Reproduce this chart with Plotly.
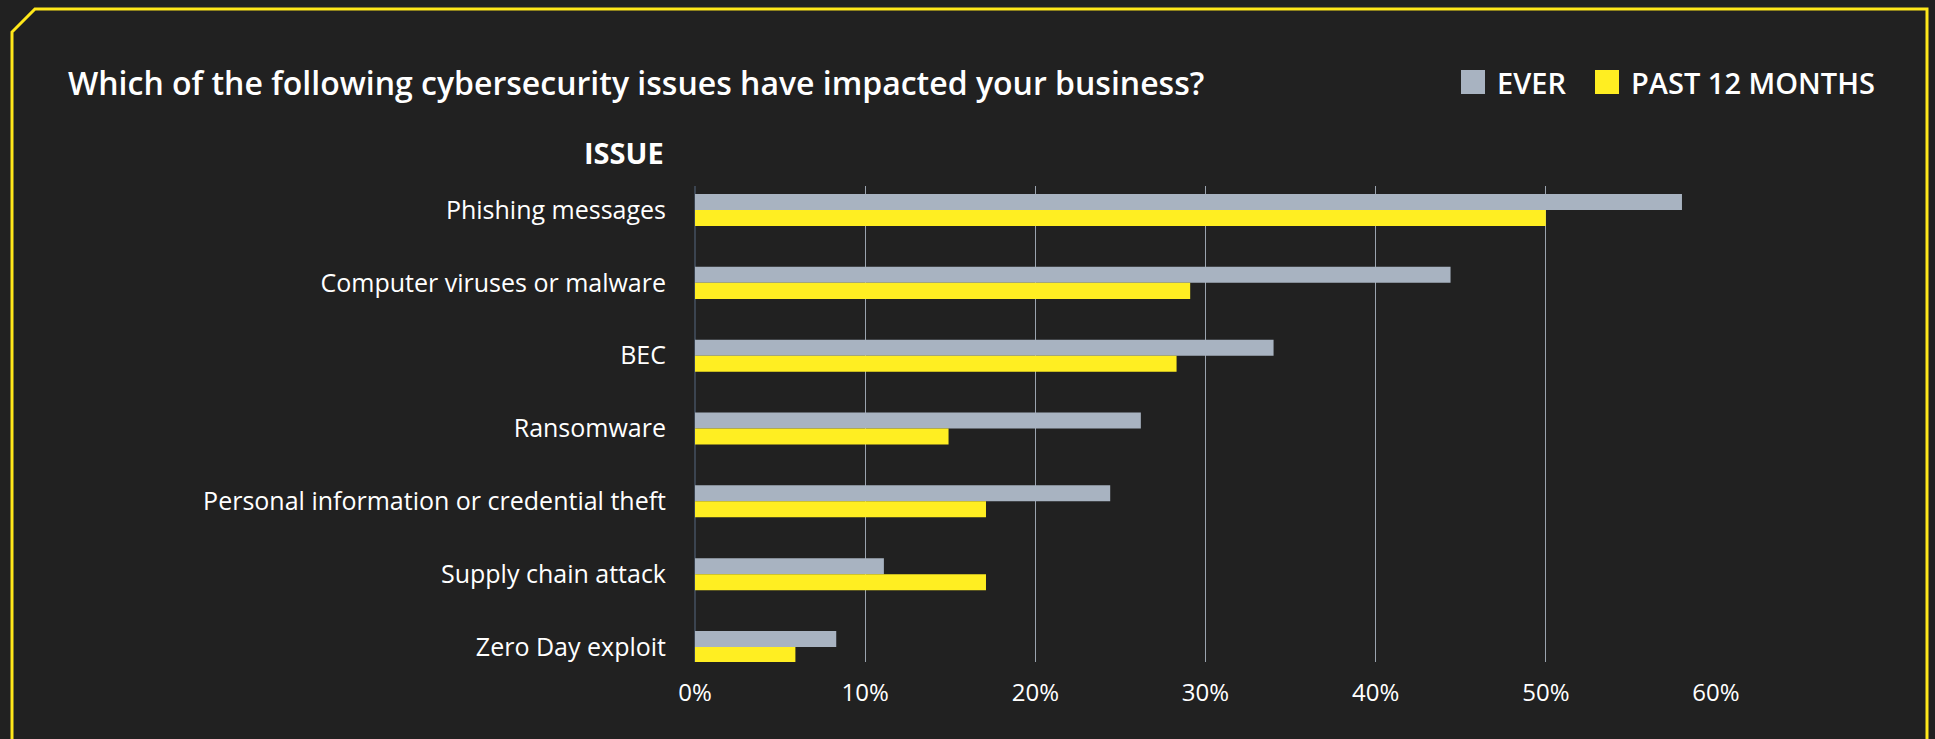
import plotly.graph_objects as go

# Survey results: share of businesses impacted by each issue
issues = [
    "Phishing messages",
    "Computer viruses or malware",
    "BEC",
    "Ransomware",
    "Personal information or credential theft",
    "Supply chain attack",
    "Zero Day exploit",
]
ever = [0.580, 0.444, 0.340, 0.262, 0.244, 0.111, 0.083]
past_12_months = [0.500, 0.291, 0.283, 0.149, 0.171, 0.171, 0.059]
series_names = ["EVER", "PAST 12 MONTHS"]
x_ticks = [0, 0.1, 0.2, 0.3, 0.4, 0.5, 0.6]
x_tick_labels = ["0%", "10%", "20%", "30%", "40%", "50%", "60%"]

W, H = 1935, 739
BG = "#212121"
GREY = "#a8b3c1"
YELLOW = "#ffee22"
FRAME = "#ffe81a"
FONT = "Open Sans"

# plot rectangle in page pixels
L, R, T, B = 695, 1716, 186, 662


def px(x):
    return (x - L) / (R - L)


def py(y):
    return (B - y) / (B - T)


fig = go.Figure()
fig.add_trace(go.Bar(
    y=issues, x=ever, name=series_names[0], orientation="h",
    marker=dict(color=GREY, line=dict(width=0)),
))
fig.add_trace(go.Bar(
    y=issues, x=past_12_months, name=series_names[1], orientation="h",
    marker=dict(color=YELLOW, line=dict(width=0)),
))

# outer frame with the clipped top-left corner
frame_pts = [(12, 760), (12, 32), (35, 9), (1927, 9), (1927, 760)]
path = "M " + " L ".join(f"{px(x):.5f},{py(y):.5f}" for x, y in frame_pts)
shapes = [dict(type="path", xref="paper", yref="paper", path=path,
               line=dict(color=FRAME, width=3), layer="above")]

annotations = [
    dict(text="<b>ISSUE</b>", xref="paper", yref="paper",
         x=px(666), y=py(152), xanchor="right", yanchor="middle",
         showarrow=False, font=dict(family=FONT, size=29, color="#ffffff")),
]

# legend swatches and labels
legend_items = [(1461, series_names[0], GREY), (1595, series_names[1], YELLOW)]
for x0, label, color in legend_items:
    shapes.append(dict(type="rect", xref="paper", yref="paper",
                       x0=px(x0), x1=px(x0 + 24), y0=py(94), y1=py(70),
                       fillcolor=color, line=dict(width=0)))
    annotations.append(dict(text=label, xref="paper", yref="paper",
                            x=px(x0 + 34), y=py(82), xanchor="left",
                            yanchor="middle", showarrow=False,
                            font=dict(family=FONT, size=29, color="#ffffff",
                                      weight=600)))

fig.update_layout(
    width=W, height=H,
    paper_bgcolor=BG, plot_bgcolor=BG,
    margin=dict(l=L, r=W - R, t=T, b=H - B, pad=0),
    barmode="group", bargap=0.56, bargroupgap=0,
    showlegend=False,
    title=dict(text="Which of the following cybersecurity issues have impacted your business?",
               x=68 / W, y=1 - 84 / H, xref="container", yref="container",
               xanchor="left", yanchor="middle",
               font=dict(family=FONT, size=32, color="#ffffff", weight=600)),
    shapes=shapes,
    annotations=annotations,
    font=dict(family=FONT, color="#ffffff"),
)

fig.update_xaxes(
    range=[0, 0.6], tickvals=x_ticks, ticktext=x_tick_labels,
    showgrid=True, gridcolor="#9aa3ae", gridwidth=1,
    zeroline=True, zerolinecolor="#3b4450", zerolinewidth=2,
    showline=False, ticks="", ticklabelstandoff=14,
    tickfont=dict(family=FONT, size=24, color="#ffffff"),
    fixedrange=True,
)
fig.update_yaxes(
    type="category", range=[6.206, -0.33],
    showgrid=False, zeroline=False, showline=False, ticks="",
    ticklabelstandoff=28,
    tickfont=dict(family=FONT, size=25, color="#ffffff"),
    fixedrange=True,
)

fig.write_html("out.html", config=dict(displayModeBar=False))
